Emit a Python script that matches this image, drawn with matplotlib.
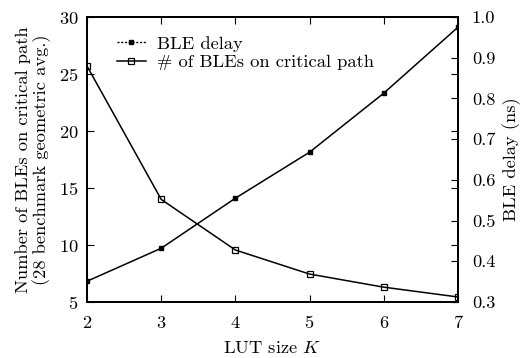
import matplotlib
matplotlib.use("Agg")
import matplotlib.pyplot as plt
from matplotlib.lines import Line2D

plt.rcParams['font.family'] = ['cmr10', 'DejaVu Serif']
plt.rcParams['mathtext.fontset'] = 'cm'
plt.rcParams['axes.formatter.use_mathtext'] = True
plt.rcParams['axes.unicode_minus'] = False

lut_size = [2, 3, 4, 5, 6, 7]
num_bles = [25.7, 14.0, 9.56, 7.45, 6.3, 5.44]
ble_delay = [0.351, 0.432, 0.555, 0.668, 0.813, 0.975]

left_ticks = [5, 10, 15, 20, 25, 30]
right_ticks = [0.3, 0.4, 0.5, 0.6, 0.7, 0.8, 0.9, 1.0]
right_labels = ["0.3", "0.4", "0.5", "0.6", "0.7", "0.8", "0.9", "1.0"]

FS = 13.3
fig = plt.figure(figsize=(5.22, 3.58), dpi=100)
ax = fig.add_axes([87/522, 1-302/358, (458-87)/522, (302-17)/358])
ax2 = ax.twinx()

ax.plot(lut_size, num_bles, color='black', lw=1.1, marker='s', ms=4,
        mfc='none', mec='black', mew=0.9)
ax2.plot(lut_size, ble_delay, color='black', lw=1.1, marker='s', ms=2.5,
         mfc='black', mec='black')

ax.set_xlim(2, 7)
ax.set_ylim(5, 30)
ax2.set_ylim(0.3, 1.0)
ax.set_xticks(lut_size)
ax.set_yticks(left_ticks)
ax2.set_yticks(right_ticks)
ax2.set_yticklabels(right_labels)

ax.tick_params(direction='in', length=5, width=0.8, top=True, right=True,
               labelright=False, labelsize=FS, pad=6)
ax.tick_params(axis='x', pad=9)
ax2.tick_params(direction='in', length=5, width=0.8, right=True, left=False,
                labelsize=FS, pad=10)
for a in (ax, ax2):
    for s in a.spines.values():
        s.set_linewidth(1.4)

ax.set_xlabel("LUT size $K$", fontsize=FS, labelpad=6)
ax.set_ylabel("Number of BLEs on critical path\n(28 benchmark geometric avg.)",
              fontsize=FS, labelpad=6, linespacing=1.1)
ax2.set_ylabel("BLE delay (ns)", fontsize=FS, labelpad=5)

handles = [
    Line2D([], [], color='black', lw=1.0, ls=(0, (1.5, 1.2)), marker='s', ms=2.5,
           mfc='black', mec='black'),
    Line2D([], [], color='black', lw=1.1, marker='s', ms=4, mfc='none',
           mec='black', mew=0.9),
]
ax.legend(handles, ["BLE delay", "# of BLEs on critical path"], loc='upper left',
          frameon=False, fontsize=FS, handlelength=1.6, handletextpad=0.6,
          labelspacing=0.15, borderaxespad=0.3, bbox_to_anchor=(0.045, 0.98))

fig.savefig("out.png", dpi=100)
